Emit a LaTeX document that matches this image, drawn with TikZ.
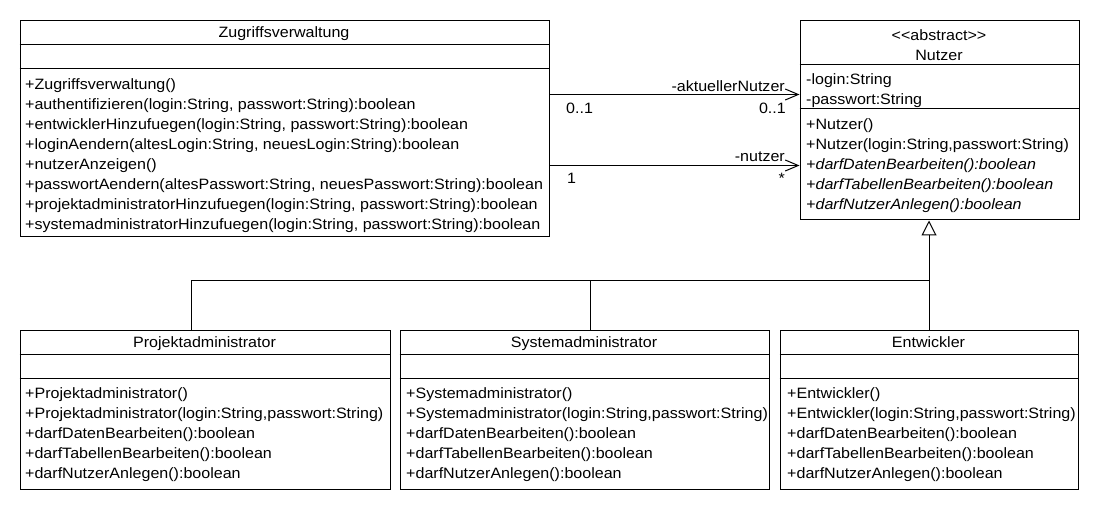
\documentclass[tikz,border=0pt]{standalone}
\usepackage{fontspec}
\setmainfont{Liberation Sans}[FakeStretch=1.07]
\usetikzlibrary{arrows.meta}
\begin{document}
\begin{tikzpicture}[x=1pt,y=-1pt,
  box/.style={draw, line width=1pt, inner sep=0pt, anchor=north west},
  txt/.style={anchor=base west, inner sep=0pt, font=\fontsize{15}{18}\selectfont},
  ctxt/.style={anchor=base, inner sep=0pt, font=\fontsize{15}{18}\selectfont},
  etxt/.style={anchor=base east, inner sep=0pt, font=\fontsize{15}{18}\selectfont},
  sep/.style={line width=1pt},
  assoc/.style={line width=1pt, -{Straight Barb[length=13pt,width=11pt,line width=1pt]}},
  gen/.style={line width=1pt, -{Triangle[open,length=15pt,width=15pt,line width=1pt,fill=white]}},
  genline/.style={line width=1pt}
]
\useasboundingbox (0,0) rectangle (1100,510);

% ---------- Zugriffsverwaltung ----------
\node[box, minimum width=529pt, minimum height=216pt] (zv) at (19.5,20.5) {};
\draw[sep] ([yshift=-24pt]zv.north west) -- ([yshift=-24pt]zv.north east);
\draw[sep] ([yshift=-48pt]zv.north west) -- ([yshift=-48pt]zv.north east);
\node[ctxt] (zvt) at (284,37.5) {Zugriffsverwaltung};
\foreach [count=\i from 0] \t in {
  {+Zugriffsverwaltung()},
  {+authentifizieren(login:String, passwort:String):boolean},
  {+entwicklerHinzufuegen(login:String, passwort:String):boolean},
  {+loginAendern(altesLogin:String, neuesLogin:String):boolean},
  {+nutzerAnzeigen()},
  {+passwortAendern(altesPasswort:String, neuesPasswort:String):boolean},
  {+projektadministratorHinzufuegen(login:String, passwort:String):boolean},
  {+systemadministratorHinzufuegen(login:String, passwort:String):boolean}}
  \node[txt] (zvop\i) at (25,89.5+20*\i) {\t};

% ---------- Nutzer ----------
\node[box, minimum width=279pt, minimum height=199pt] (nu) at (799.5,20.5) {};
\draw[sep] ([yshift=-44pt]nu.north west) -- ([yshift=-44pt]nu.north east);
\draw[sep] ([yshift=-88pt]nu.north west) -- ([yshift=-88pt]nu.north east);
\node[ctxt] (nust) at (939,40.5) {<\kern0pt<abstract>\kern0pt>};
\node[ctxt] (nut) at (939,60.5) {Nutzer};
\node[txt] (nua0) at (806,84.5) {-login:String};
\node[txt] (nua1) at (806,104.5) {-passwort:String};
\node[txt] (nuop0) at (806,129.5) {+Nutzer()};
\node[txt] (nuop1) at (806,149.5) {+Nutzer(login:String,passwort:String)};
\node[txt] (nuop2) at (806,169.5) {\itshape +darfDatenBearbeiten():boolean};
\node[txt] (nuop3) at (806,189.5) {\itshape +darfTabellenBearbeiten():boolean};
\node[txt] (nuop4) at (806,209.5) {\itshape +darfNutzerAnlegen():boolean};

% ---------- Associations ----------
\draw[assoc] (zv.east |- 0,94.5) -- (nu.west |- 0,94.5);
\node[etxt] (l1) at (785,92) {-aktuellerNutzer};
\node[txt] (m1a) at (566,113.5) {0..1};
\node[etxt] (m1b) at (786,113.5) {0..1};
\draw[assoc] (zv.east |- 0,165.5) -- (nu.west |- 0,165.5);
\node[etxt] (l2) at (785,162) {-nutzer};
\node[txt] (m2a) at (567,183.5) {1};
\node[etxt] (m2b) at (785,184) {*};

% ---------- Subclasses ----------
\node[box, minimum width=370pt, minimum height=158pt] (pa) at (19.5,330.5) {};
\draw[sep] ([yshift=-24pt]pa.north west) -- ([yshift=-24pt]pa.north east);
\draw[sep] ([yshift=-48pt]pa.north west) -- ([yshift=-48pt]pa.north east);
\node[ctxt] (pat) at (204.5,347.5) {Projektadministrator};
\foreach [count=\i from 0] \t in {
  {+Projektadministrator()},
  {+Projektadministrator(login:String,passwort:String)},
  {+darfDatenBearbeiten():boolean},
  {+darfTabellenBearbeiten():boolean},
  {+darfNutzerAnlegen():boolean}}
  \node[txt] (paop\i) at (25,398.5+20*\i) {\t};

\node[box, minimum width=369pt, minimum height=158pt] (sa) at (399.5,330.5) {};
\draw[sep] ([yshift=-24pt]sa.north west) -- ([yshift=-24pt]sa.north east);
\draw[sep] ([yshift=-48pt]sa.north west) -- ([yshift=-48pt]sa.north east);
\node[ctxt] (sat) at (584,347.5) {Systemadministrator};
\foreach [count=\i from 0] \t in {
  {+Systemadministrator()},
  {+Systemadministrator(login:String,passwort:String)},
  {+darfDatenBearbeiten():boolean},
  {+darfTabellenBearbeiten():boolean},
  {+darfNutzerAnlegen():boolean}}
  \node[txt] (saop\i) at (406,398.5+20*\i) {\t};

\node[box, minimum width=298pt, minimum height=158pt] (en) at (779.5,330.5) {};
\draw[sep] ([yshift=-24pt]en.north west) -- ([yshift=-24pt]en.north east);
\draw[sep] ([yshift=-48pt]en.north west) -- ([yshift=-48pt]en.north east);
\node[ctxt] (ent) at (928.5,347.5) {Entwickler};
\foreach [count=\i from 0] \t in {
  {+Entwickler()},
  {+Entwickler(login:String,passwort:String)},
  {+darfDatenBearbeiten():boolean},
  {+darfTabellenBearbeiten():boolean},
  {+darfNutzerAnlegen():boolean}}
  \node[txt] (enop\i) at (787,398.5+20*\i) {\t};

% ---------- Generalization ----------
\coordinate (gj) at (en.north |- 0,280.5);
\draw[gen] (en.north) -- (en.north |- nu.south);
\draw[genline] ([xshift=-14pt]pa.north) |- (gj);
\draw[genline] ([xshift=5.5pt]sa.north) -- ([xshift=5.5pt]sa.north |- gj);
\end{tikzpicture}
\end{document}
